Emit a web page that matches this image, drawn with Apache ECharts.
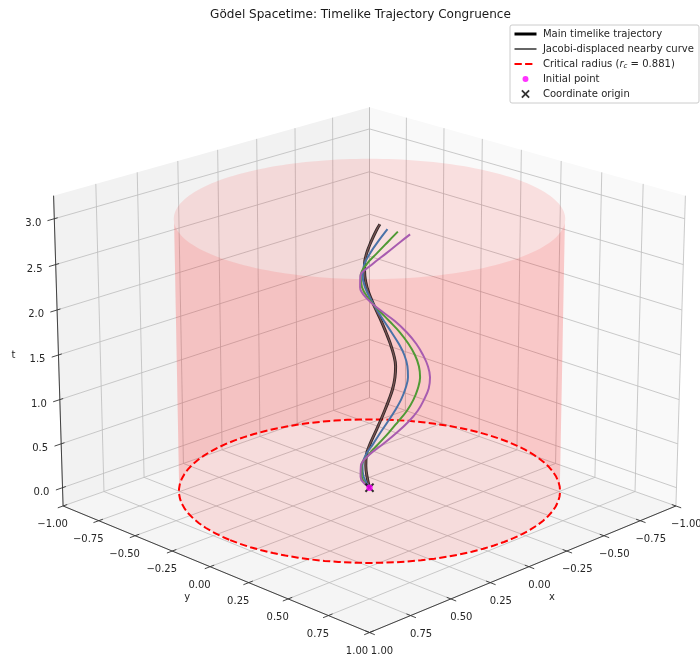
<!DOCTYPE html>
<html><head><meta charset="utf-8">
<style>html,body{margin:0;padding:0;background:#fff}#c{width:700px;height:664px}</style>
<script src="https://cdn.jsdelivr.net/npm/echarts@6/dist/echarts.min.js"></script>
</head><body><div id="c"></div>
<script>
// ---- data ----
const titleText = 'Gödel Spacetime: Timelike Trajectory Congruence';
const xyTicks = [-1, -0.75, -0.5, -0.25, 0, 0.25, 0.5, 0.75, 1];
const xyTickLabels = ['−1.00','−0.75','−0.50','−0.25','0.00','0.25','0.50','0.75','1.00'];
const zTicks = [0, 0.5, 1, 1.5, 2, 2.5, 3];
const zTickLabels = ['0.0','0.5','1.0','1.5','2.0','2.5','3.0'];
const criticalRadius = 0.877;
const cylinderTop = 3.03;
const tSamples = [0,0.125,0.25,0.375,0.5,0.625,0.75,0.875,1,1.125,1.25,1.375,1.5,1.625,1.75,1.875,2,2.125,2.25,2.375,2.5,2.625,2.75];
// signed displacement along the (x,y)=(-1,+1) direction at each t, last value at the curve's own end time
const mainOffset   = [0,-.008,-.012,-.010,.002,.018,.034,.049,.063,.075,.082,.084,.078,.067,.053,.038,.021,.005,-.008,-.015,-.016,-.009,.005,.022,.033];
const mainEndT     = [2.875,2.94];
const blueOffset   = [0,-.019,-.023,-.012,.012,.035,.059,.082,.102,.116,.124,.122,.112,.094,.071,.047,.024,.003,-.014,-.022,-.017,.002,.027,.057];
const blueEndT     = [2.886];
const greenOffset  = [0,-.025,-.026,-.003,.029,.062,.092,.121,.142,.156,.163,.159,.146,.125,.098,.064,.029,-.003,-.024,-.028,-.010,.024,.059,.090];
const greenEndT    = [2.86];
const purpleOffset = [0,-.029,-.028,-.001,.045,.088,.126,.156,.176,.191,.195,.188,.172,.150,.120,.082,.034,-.008,-.030,-.029,.008,.054,.099,.129];
const purpleEndT   = [2.83];
const initialPoint = [0,0,0];
const originPoint = [0,0,0];

// ---- matplotlib-style 3D view ----
const XMIN=-1,XMAX=1,ZMIN=-0.21,ZMAX=3.25;
const EL=20*Math.PI/180, AZ=45*Math.PI/180, D=10, S=3697, CX=369.5, CY=353.2, BXY=1.19, BZ=0.893;
function P(x,y,z){
  const dx=((x-XMIN)/(XMAX-XMIN)-.5)*BXY, dy=((y-XMIN)/(XMAX-XMIN)-.5)*BXY, dz=((z-ZMIN)/(ZMAX-ZMIN)-.5)*BZ;
  const h=dx*Math.cos(AZ)+dy*Math.sin(AZ), u=-dx*Math.sin(AZ)+dy*Math.cos(AZ);
  const w=h*Math.cos(EL)+dz*Math.sin(EL), v=-h*Math.sin(EL)+dz*Math.cos(EL);
  return [CX+S*u/(D-w), CY-S*v/(D-w)];
}
const GAP=[NaN,NaN];
function segs(list){const o=[];list.forEach(s=>{o.push(P(...s[0]),P(...s[1]),GAP);});return o;}
function lineSeries(name,data,color,width,z,extra){
  return Object.assign({type:'line',name,data,z,symbol:'none',showSymbol:false,silent:true,clip:false,animation:false,
    itemStyle:{color},lineStyle:{color,width,cap:'butt'},connectNulls:false},extra||{});
}
function polySeries(pts,fill,z){
  return {type:'custom',data:[pts[0]],z,silent:true,clip:false,animation:false,
    renderItem:(p,api)=>({type:'polygon',shape:{points:pts.map(q=>api.coord(q))},style:{fill},silent:true})};
}
function textSeries(items,z,size){
  return {type:'custom',data:items.map(i=>i.at),z,silent:true,clip:false,animation:false,
    renderItem:(p,api)=>{const it=items[p.dataIndex],c=api.coord(it.at);
      return {type:'text',silent:true,style:{x:c[0]+it.dx,y:c[1]+it.dy,text:it.text,align:'center',verticalAlign:'middle',
        fill:'#262626',font:(size||10)+'px "DejaVu Sans"'}};}};
}
function curve(offset,endT){
  const ts=tSamples.concat(endT);
  return offset.map((d,i)=>P(-d,d,ts[i]));
}
function circle(a0,a1,z){const o=[];const n=90;for(let i=0;i<=n;i++){const a=(a0+(a1-a0)*i/n)*Math.PI/180;o.push(P(criticalRadius*Math.cos(a),criticalRadius*Math.sin(a),z));}return o;}

const series=[];
// panes
series.push(polySeries([P(1,-1,ZMIN),P(-1,-1,ZMIN),P(-1,-1,ZMAX),P(1,-1,ZMAX)],'#f2f2f2',1));
series.push(polySeries([P(-1,1,ZMIN),P(-1,-1,ZMIN),P(-1,-1,ZMAX),P(-1,1,ZMAX)],'#f9f9f9',1));
series.push(polySeries([P(1,-1,ZMIN),P(-1,-1,ZMIN),P(-1,1,ZMIN),P(1,1,ZMIN)],'#f5f5f5',1));
// grid
const grid=[];
xyTicks.forEach(t=>{
  grid.push([[t,-1,ZMIN],[t,-1,ZMAX]],[[-1,t,ZMIN],[-1,t,ZMAX]],[[t,-1,ZMIN],[t,1,ZMIN]],[[-1,t,ZMIN],[1,t,ZMIN]]);
});
zTicks.forEach(t=>{grid.push([[1,-1,t],[-1,-1,t]],[[-1,-1,t],[-1,1,t]]);});
series.push(lineSeries('grid',segs(grid),'#bdbdbd',0.8,2));
// axis lines and ticks
const axisSegs=[[[1,-1,ZMIN],[1,1,ZMIN]],[[1,1,ZMIN],[-1,1,ZMIN]],[[1,-1,ZMIN],[1,-1,ZMAX]]];
xyTicks.forEach(t=>{axisSegs.push([[1.032,t,ZMIN],[0.975,t,ZMIN]],[[t,1.032,ZMIN],[t,0.975,ZMIN]]);});
zTicks.forEach(t=>{axisSegs.push([[1.04,-1,t],[0.98,-1,t]]);});
series.push(lineSeries('axes',segs(axisSegs),'#333333',0.9,3));
// tick labels
const labels=[];
xyTicks.forEach((t,i)=>{
  const far=t===1;
  labels.push({at:P(1,t,ZMIN),dx:far?-12.5:-10.5,dy:18.5,text:xyTickLabels[i]});
  labels.push({at:P(t,1,ZMIN),dx:far?12.5:10.5,dy:18.5,text:xyTickLabels[i]});
});
zTicks.forEach((t,i)=>labels.push({at:P(1,-1,t),dx:-21,dy:4.5,text:zTickLabels[i]}));
labels.push({at:P(1,0,ZMIN),dx:-23,dy:31,text:'y'});
labels.push({at:P(0,1,ZMIN),dx:23,dy:31,text:'x'});
labels.push({at:P(1,-1,1.5),dx:-45,dy:0,text:'t'});
series.push(textSeries(labels,4));
// cylinder of critical radius: back and front half of its wall
const backBottom=circle(135,315,0), backTop=circle(135,315,cylinderTop);
const frontBottom=circle(-45,135,0), frontTop=circle(-45,135,cylinderTop);
const WALL='rgba(255,0,0,0.10)';
series.push(polySeries(backBottom.concat(backTop.slice().reverse()),WALL,5));
series.push(polySeries(frontBottom.concat(frontTop.slice().reverse()),WALL,6));
// critical circle
series.push(lineSeries('Critical radius (rc = 0.881)',circle(0,360,0),'#ff0000',2,7,{lineStyle:{color:'#ff0000',width:2,type:[7.3,3.3]}}));
// curves
series.push(lineSeries('Main timelike trajectory',curve(mainOffset,mainEndT),'#000000',3,8,{smooth:0.4,lineStyle:{color:'#000',width:3,opacity:0.8}}));
series.push(lineSeries('Displaced red',curve(mainOffset,mainEndT),'#7a5252',1.2,9,{smooth:0.4}));
series.push(lineSeries('Displaced blue',curve(blueOffset,blueEndT),'#4a72a8',2,9,{smooth:0.4}));
series.push(lineSeries('Displaced green',curve(greenOffset,greenEndT),'#4f9a35',2,9,{smooth:0.4}));
series.push(lineSeries('Displaced purple',curve(purpleOffset,purpleEndT),'#a85cb0',2,9,{smooth:0.4}));
series.push(lineSeries('Jacobi-displaced nearby curve',[[NaN,NaN]],'#666666',1.8,9));
// markers
const CROSS='path://M1.5 0L5 3.5L8.5 0L10 1.5L6.5 5L10 8.5L8.5 10L5 6.5L1.5 10L0 8.5L3.5 5L0 1.5Z';
const DOT='path://M0 0M10 10M1.5 5A3.5 3.5 0 1 1 8.5 5A3.5 3.5 0 1 1 1.5 5Z';
series.push({type:'scatter',name:'Coordinate origin',data:[P(...originPoint)],symbol:CROSS,symbolSize:9.5,z:10,silent:true,clip:false,animation:false,itemStyle:{color:'#000'}});
series.push({type:'scatter',name:'Initial point',data:[P(...initialPoint)],symbol:'circle',symbolSize:6.5,z:11,silent:true,clip:false,animation:false,itemStyle:{color:'#ff00ff'}});

const HIDE={color:'rgba(0,0,0,0)',opacity:0};
const chart=echarts.init(document.getElementById('c'),null,{renderer:'canvas'});
chart.setOption({
  animation:false,backgroundColor:'#fff',
  title:{text:titleText,left:355.5,top:4,textAlign:'center',textStyle:{fontFamily:'DejaVu Sans',fontSize:12.05,fontWeight:'normal',color:'#1a1a1a'}},
  grid:{left:0,top:0,width:700,height:664,show:false},
  xAxis:{type:'value',min:0,max:700,show:false},
  yAxis:{type:'value',min:0,max:664,inverse:true,show:false},
  legend:{
    orient:'vertical',left:510,top:25,padding:[3,5,3,3],itemWidth:22,itemHeight:8.5,itemGap:3,
    backgroundColor:'#fff',borderColor:'#cccccc',borderWidth:1,borderRadius:2,selectedMode:false,
    textStyle:{fontFamily:'DejaVu Sans',fontSize:10.05,color:'#262626',lineHeight:12,padding:[0,0,0,1.4],
      rich:{r:{fontFamily:'DejaVu Sans',fontStyle:'italic',fontSize:10.05,lineHeight:12},sub:{fontFamily:'DejaVu Sans',fontStyle:'italic',fontSize:7,lineHeight:12,padding:[4,0,0,0]}}},
    formatter:n=>n.indexOf('Critical')===0?'Critical radius ({r|r}{sub|c} = 0.881)':n,
    data:[
      {name:'Main timelike trajectory',itemStyle:HIDE,lineStyle:{color:'#000',width:3,opacity:1}},
      {name:'Jacobi-displaced nearby curve',itemStyle:HIDE},
      {name:'Critical radius (rc = 0.881)',itemStyle:HIDE,lineStyle:{color:'#ff0000',width:2,type:[7.3,3.3,7.3,10]}},
      {name:'Initial point',icon:DOT},
      {name:'Coordinate origin',icon:CROSS}
    ]
  },
  series
});
</script></body></html>
